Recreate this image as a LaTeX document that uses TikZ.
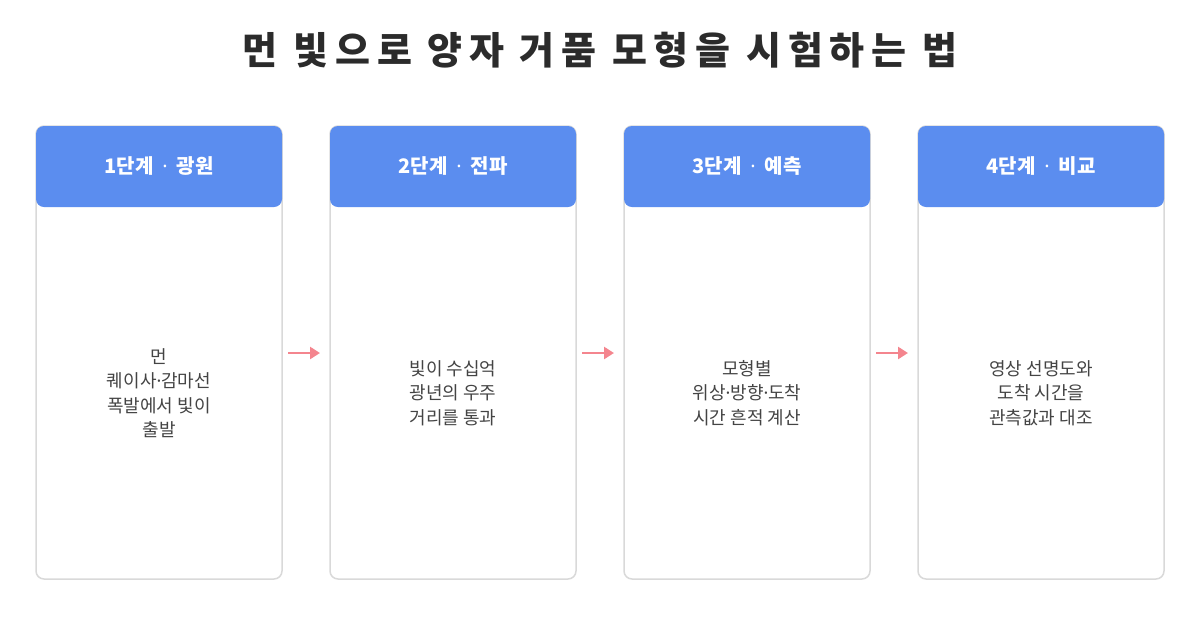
\documentclass[tikz,border=0pt]{standalone}
\usepackage{fontspec}
\setmainfont{Noto Sans CJK KR}
\newfontfamily\titlefont[LetterSpace=18]{Noto Sans CJK KR}
\newfontfamily\dotfont{Noto Sans}
\newcommand{\md}{{\dotfont ·}}
\newcommand{\hsep}{\hspace{0.45em}\md\hspace{0.45em}}
\usetikzlibrary{arrows.meta}
\definecolor{hdr}{HTML}{5B8DEF}
\definecolor{bord}{HTML}{D9D9D9}
\definecolor{arr}{HTML}{F4858E}
\definecolor{ttl}{HTML}{2B2B2B}
\definecolor{body}{HTML}{444444}
\tikzset{
  card/.style={draw=bord, line width=1.5pt, fill=white, rounded corners=8pt},
  head/.style={fill=hdr, rounded corners=8pt},
  headtxt/.style={text=white, font=\fontsize{20}{24}\selectfont\bfseries},
  bodytxt/.style={text=body, align=center, font=\fontsize{18}{24.5}\selectfont},
  flow/.style={draw=arr, line width=2.5pt, -{Triangle[length=10pt,width=12pt]}}
}
\begin{document}
\begin{tikzpicture}[x=1pt,y=-1pt]
\useasboundingbox (0,0) rectangle (1200,630);
\node[text=ttl, font=\fontsize{38}{42}\titlefont\bfseries] (title) at (600,50) {먼 빛으로 양자 거품 모형을 시험하는 법};
\foreach \i/\h/\b in {1/{1단계\hsep 광원}/{먼\\퀘이사\md 감마선\\폭발에서 빛이\\출발},
                      2/{2단계\hsep 전파}/{빛이 수십억\\광년의 우주\\거리를 통과},
                      3/{3단계\hsep 예측}/{모형별\\위상\md 방향\md 도착\\시간 흔적 계산},
                      4/{4단계\hsep 비교}/{영상 선명도와\\도착 시간을\\관측값과 대조}}{
  \pgfmathsetmacro{\xl}{36+(\i-1)*294}
  \pgfmathsetmacro{\xr}{\xl+246}
  \pgfmathsetmacro{\xc}{\xl+123}
  \draw[card] (\xl,126) rectangle (\xr,579);
  \fill[head] (\xl,126) rectangle (\xr,207);
  \node[headtxt] (h\i) at (\xc,166) {\h};
  \node[bodytxt] (b\i) at (\xc,393) {\b};
  \coordinate (L\i) at (\xl,353);
  \coordinate (R\i) at (\xr,353);
}
\foreach \a/\c in {1/2,2/3,3/4}{
  \draw[flow] ([xshift=6pt]R\a) -- ([xshift=-10pt]L\c);
}
\end{tikzpicture}
\end{document}
